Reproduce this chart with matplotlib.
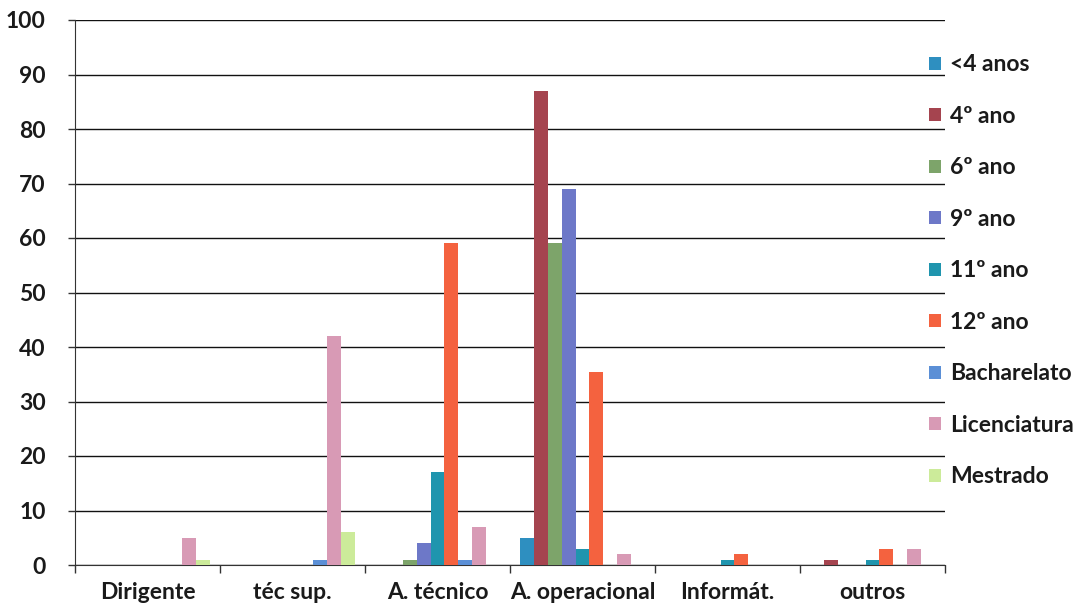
import matplotlib
matplotlib.use("Agg")
import matplotlib.pyplot as plt
import numpy as np
from matplotlib.patches import Patch

categories = ["Dirigente", "téc sup.", "A. técnico", "A. operacional", "Informát.", "outros"]
series_names = ["<4 anos", "4º ano", "6º ano", "9º ano", "11º ano", "12º ano",
                "Bacharelato", "Licenciatura", "Mestrado"]
s_lt4 = [0, 0, 0, 5, 0, 0]
s_4 = [0, 0, 0, 87, 0, 1]
s_6 = [0, 0, 1, 59, 0, 0]
s_9 = [0, 0, 4, 69, 0, 0]
s_11 = [0, 0, 17, 3, 1, 1]
s_12 = [0, 0, 59, 35.5, 2, 3]
s_bach = [0, 1, 1, 0, 0, 0]
s_lic = [5, 42, 7, 2, 0, 3]
s_mest = [1, 6, 0, 0, 0, 0]
series_values = [s_lt4, s_4, s_6, s_9, s_11, s_12, s_bach, s_lic, s_mest]
colors = ["#2E8FC0", "#A5444F", "#7DA46A", "#6D78C8", "#1F95AE", "#F4623F",
          "#5B8FD6", "#D89AB5", "#CCEB9A"]
yticks = [0, 10, 20, 30, 40, 50, 60, 70, 80, 90, 100]

plt.rcParams['font.family'] = ['Lato', 'DejaVu Sans']
fig = plt.figure(figsize=(10.89, 6.09), dpi=100)
ax = fig.add_axes([75/1089, 1-565/609, (945-75)/1089, (565-20)/609])

n = len(series_names)
w = 1/10.5
x = np.arange(len(categories))
for i, (vals, c) in enumerate(zip(series_values, colors)):
    ax.bar(x + (i - (n-1)/2)*w, vals, width=w, color=c, linewidth=0, zorder=3)

FS = 16.5
ax.set_xlim(-0.5, len(categories)-0.5)
ax.set_ylim(0, 100)
ax.set_yticks(yticks)
ax.set_yticklabels([str(t) for t in yticks], fontsize=FS, fontweight='bold', color='#1a1a1a')
ax.yaxis.grid(True, color='#111111', linewidth=1.0, zorder=0)
ax.tick_params(axis='y', length=5, width=1, color='#333333', pad=16)

ax.set_xticks(x)
ax.set_xticklabels(categories, fontsize=FS, fontweight='bold', color='#1a1a1a')
ax.tick_params(axis='x', which='major', length=0, pad=12)
ax.set_xticks(np.arange(-0.5, len(categories)), minor=True)
ax.tick_params(axis='x', which='minor', length=6, width=1, color='#333333')

for s in ['top', 'right']:
    ax.spines[s].set_visible(False)
ax.spines['left'].set_color('#333333')
ax.spines['bottom'].set_color('#333333')

handles = [Patch(facecolor=c, edgecolor='none') for c in colors]
leg = fig.legend(handles, series_names, loc='upper left',
                 bbox_to_anchor=(918/1089, 1-43/609), frameon=False,
                 fontsize=FS, handlelength=0.5, handleheight=0.5,
                 handletextpad=0.4, labelspacing=1.33, borderpad=0)
for t in leg.get_texts():
    t.set_fontweight('bold')
    t.set_color('#1a1a1a')

fig.savefig("out.png", dpi=100, facecolor='white')
